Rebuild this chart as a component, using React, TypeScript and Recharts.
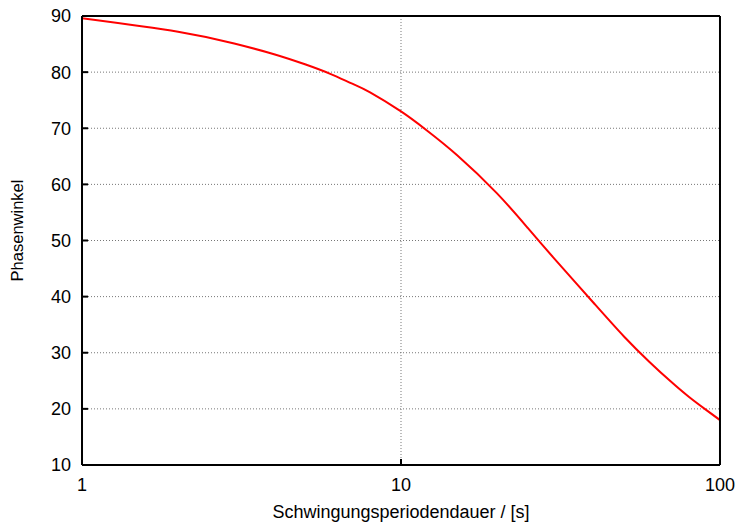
import React from "react";
import { LineChart, Line, XAxis, YAxis, CartesianGrid } from "recharts";

// period in seconds (log axis) and phase angle
const periods = [1, 2, 3, 4, 5, 6, 7, 8, 10, 12, 15, 20, 25, 30, 40, 50, 60, 70, 80, 90, 100];
const phase = [89.6, 87.2, 85.1, 83.2, 81.4, 79.7, 78.0, 76.4, 73.0, 69.7, 65.2, 58.4, 52.2, 47.0, 39.0, 32.9, 28.4, 24.9, 22.1, 19.9, 18.0];

const xMajor = [1, 10, 100];
const xMinor = [2, 3, 4, 5, 6, 7, 8, 9, 20, 30, 40, 50, 60, 70, 80, 90];
const yTicks = [10, 20, 30, 40, 50, 60, 70, 80, 90];

const chartData = periods.map((t, i) => ({ t, phi: phase[i] }));

const FONT = "'Liberation Sans', Arial, Helvetica, sans-serif";
const frame = { stroke: "#000", strokeWidth: 2 };
const tickStroke = { stroke: "#000", strokeWidth: 2 };
const THIN = 0.01; // axes take no room, but must not be zero-sized or they are skipped

export default function App() {
  return (
    <div style={{ position: "absolute", left: 0, top: 0, fontFamily: FONT }}>
      <LineChart width={742} height={523} data={chartData} margin={{ top: 16, right: 22, bottom: 58, left: 82 }}>
        <CartesianGrid stroke="#777" strokeDasharray="1 2" />

        {/* bottom axis, major ticks + labels */}
        <XAxis
          dataKey="t"
          type="number"
          scale="log"
          domain={[1, 100]}
          ticks={xMajor}
          interval={0}
          allowDataOverflow
          height={THIN}
          tickSize={-6}
          tickMargin={19}
          axisLine={frame}
          tickLine={tickStroke}
          tick={{ fill: "#000", fontSize: 18, fontFamily: FONT }}
          label={{
            content: (props: any) => {
              const vb = props.viewBox || { x: 82, y: 465, width: 638, height: 0 };
              return (
                <text x={vb.x + vb.width / 2} y={vb.y + 53} textAnchor="middle" fontSize={18} fontFamily={FONT} fill="#000">
                  Schwingungsperiodendauer / [s]
                </text>
              );
            },
          }}
        />
        {/* bottom minor ticks */}
        <XAxis
          xAxisId="bminor"
          dataKey="t"
          type="number"
          scale="log"
          domain={[1, 100]}
          ticks={xMinor}
          interval={0}
          allowDataOverflow
          height={THIN}
          tickSize={-3}
          axisLine={false}
          tickLine={tickStroke}
          tick={false}
        />
        {/* top mirror */}
        <XAxis
          xAxisId="top"
          orientation="top"
          dataKey="t"
          type="number"
          scale="log"
          domain={[1, 100]}
          ticks={xMajor}
          interval={0}
          allowDataOverflow
          height={THIN}
          tickSize={-6}
          axisLine={frame}
          tickLine={tickStroke}
          tick={false}
        />
        <XAxis
          xAxisId="tminor"
          orientation="top"
          dataKey="t"
          type="number"
          scale="log"
          domain={[1, 100]}
          ticks={xMinor}
          interval={0}
          allowDataOverflow
          height={THIN}
          tickSize={-3}
          axisLine={false}
          tickLine={tickStroke}
          tick={false}
        />

        <YAxis
          type="number"
          domain={[10, 90]}
          ticks={yTicks}
          interval={0}
          allowDataOverflow
          width={THIN}
          tickSize={-6}
          tickMargin={17}
          axisLine={frame}
          tickLine={tickStroke}
          tick={{ fill: "#000", fontSize: 18, fontFamily: FONT }}
          label={{
            content: (props: any) => {
              const vb = props.viewBox || { x: 82, y: 16, width: 0, height: 449 };
              const cy = vb.y + vb.height / 2 - 10;
              return (
                <text
                  x={0}
                  y={0}
                  transform={`translate(${vb.x - 59},${cy}) rotate(-90)`}
                  textAnchor="middle"
                  fontSize={16.5}
                  fontFamily={FONT}
                  fill="#000"
                >
                  Phasenwinkel
                </text>
              );
            },
          }}
        />
        <YAxis
          yAxisId="right"
          orientation="right"
          type="number"
          domain={[10, 90]}
          ticks={yTicks}
          interval={0}
          allowDataOverflow
          width={THIN}
          tickSize={-6}
          axisLine={frame}
          tickLine={tickStroke}
          tick={false}
        />

        <Line
          type="natural"
          dataKey="phi"
          stroke="#ff0000"
          strokeWidth={2}
          dot={false}
          activeDot={false}
          isAnimationActive={false}
        />
      </LineChart>
    </div>
  );
}
